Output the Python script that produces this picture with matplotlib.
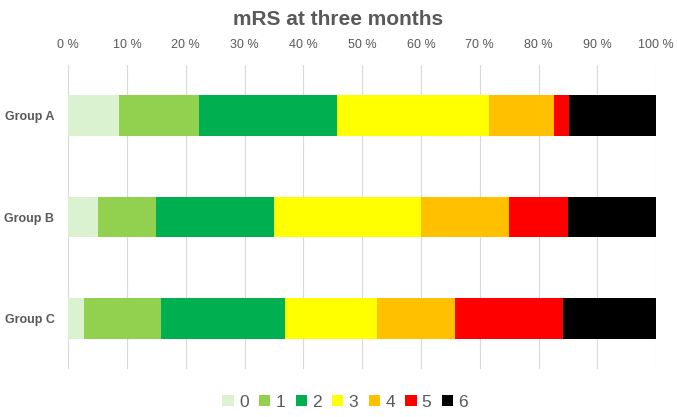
import matplotlib.pyplot as plt
from matplotlib import font_manager

# --- Data (percent per mRS score) ---
groups = ["Group A", "Group B", "Group C"]
scores = ["0", "1", "2", "3", "4", "5", "6"]
group_a = [8.7, 13.5, 23.5, 25.9, 11.1, 2.5, 14.8]
group_b = [5.0, 10.0, 20.0, 25.0, 15.0, 10.0, 15.0]
group_c = [2.7, 13.1, 21.1, 15.7, 13.2, 18.4, 15.8]
colors = ["#DAF2D0", "#92D050", "#00B050", "#FFFF00", "#FFC000", "#FF0000", "#000000"]
tick_vals = list(range(0, 101, 10))
tick_labels = [f"{v} %" for v in tick_vals]

names = {f.name for f in font_manager.fontManager.ttflist}
base = "Liberation Sans Narrow" if "Liberation Sans Narrow" in names else "Liberation Sans"
plt.rcParams["font.family"] = [base, "DejaVu Sans"]

grey = "#595959"
fig = plt.figure(figsize=(6.77, 4.17), dpi=100)
ax = fig.add_axes([0.1009, 0.115, 0.8682, 0.729])

rows = [group_a, group_b, group_c]
left = [0.0] * len(groups)
for i, s in enumerate(scores):
    vals = [r[i] for r in rows]
    ax.barh(range(len(groups)), vals, left=left, height=0.4,
            color=colors[i], label=s, zorder=3)
    left = [l + v for l, v in zip(left, vals)]

ax.set_xlim(0, 100)
ax.set_ylim(2.5, -0.5)
ax.set_yticks(range(len(groups)))
ax.set_yticklabels(groups, fontsize=9, fontweight="bold", color=grey)
ax.xaxis.tick_top()
ax.set_xticks(tick_vals)
ax.set_xticklabels(tick_labels, fontsize=9, color=grey)
ax.tick_params(axis="y", length=0, pad=10)
ax.tick_params(axis="x", length=0, pad=10)
ax.grid(axis="x", color="#D9D9D9", linewidth=0.8, zorder=0)
for sp in ax.spines.values():
    sp.set_visible(False)

fig.suptitle("mRS at three months", y=0.975, fontsize=15, fontweight="bold", color=grey)

leg = fig.legend(loc="lower center", ncol=7, frameon=False, bbox_to_anchor=(0.51, -0.02),
                 fontsize=12.5, handlelength=0.65, handleheight=0.65, handletextpad=0.3,
                 columnspacing=0.6)
for t in leg.get_texts():
    t.set_color(grey)

fig.savefig("out.png", dpi=100)
